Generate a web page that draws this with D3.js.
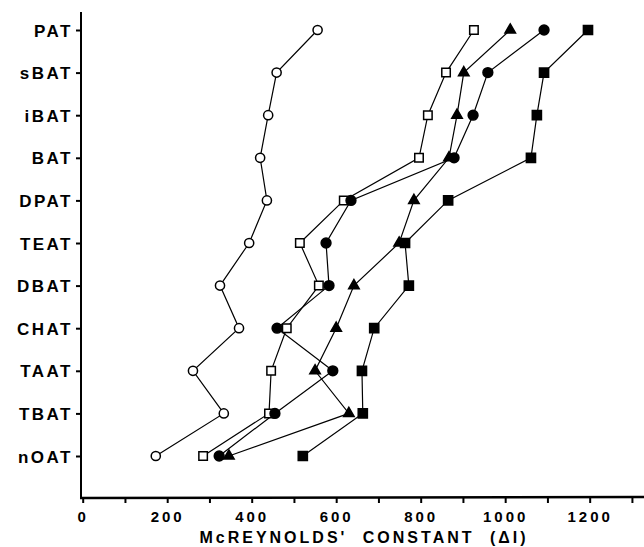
<!DOCTYPE html>
<html>
<head>
<meta charset="utf-8">
<script src="https://cdn.jsdelivr.net/npm/d3@7"></script>
<style>
  body { margin: 0; background: #fff; }
  text { font-family: "Liberation Sans", Arial, sans-serif; font-weight: bold; fill: #000; }
</style>
</head>
<body>
<div id="chart"></div>
<script>
// stationary phases, top to bottom
const phases = ["PAT", "sBAT", "iBAT", "BAT", "DPAT", "TEAT", "DBAT", "CHAT", "TAAT", "TBAT", "nOAT"];

// McReynolds' constants, one array per probe/marker
const openCircle = [556, 459, 439, 420, 436, 394, 325, 370, 261, 334, 173];
const openSquare = [926, 860, 817, 796, 618, 514, 559, 483, 446, 441, 285];
const filledTriangle = [1012, 902, 886, 867, 784, 749, 642, 600, 550, 630, 346];
const filledCircle = [1092, 959, 924, 879, 635, 576, 583, 460, 592, 455, 323];
const filledSquare = [1196, 1092, 1075, 1061, 865, 763, 772, 690, 661, 663, 521];

const xTickValues = [0, 200, 400, 600, 800, 1000, 1200];

function drawChart() {
  const w = 644;
  const h = 547;

  const series = [
    { values: openCircle, shape: d3.symbolCircle, size: 66, fill: "#fff" },
    { values: openSquare, shape: d3.symbolSquare, size: 72, fill: "#fff" },
    { values: filledTriangle, shape: d3.symbolTriangle, size: 48, fill: "#000" },
    { values: filledCircle, shape: d3.symbolCircle, size: 76, fill: "#000" },
    { values: filledSquare, shape: d3.symbolSquare, size: 84, fill: "#000" }
  ];

  const svg = d3
    .select("#chart")
    .append("svg")
    .attr("width", w)
    .attr("height", h);

  // scales
  const xScale = d3.scaleLinear().domain([0, 1330]).range([82.7, 644.6]);
  const yScale = d3.scalePoint().domain(phases).range([30, 456]);
  const axisY = 498;

  // axes
  const xAxis = d3
    .axisBottom(xScale)
    .tickValues(d3.range(0, 1301, 100))
    .tickSize(5)
    .tickFormat((d) => (xTickValues.includes(d) ? d : ""));

  const gx = svg
    .append("g")
    .attr("transform", `translate(0, ${axisY})`)
    .call(xAxis);
  gx.select(".domain").remove();
  gx.selectAll(".tick line").attr("stroke", "#000").attr("stroke-width", 2);
  gx.selectAll(".tick text")
    .attr("y", 13)
    .attr("dy", "0.71em")
    .style("font-size", "15px")
    .style("letter-spacing", "3px")
    .style("font-family", "'Liberation Sans', Arial, sans-serif");

  svg
    .append("line")
    .attr("x1", 80)
    .attr("x2", w)
    .attr("y1", axisY)
    .attr("y2", axisY - 1)
    .attr("stroke", "#000")
    .attr("stroke-width", 2.6);

  const yAxis = d3.axisLeft(yScale).tickSize(5).tickPadding(3);
  const gy = svg
    .append("g")
    .attr("transform", "translate(81, 0)")
    .call(yAxis);
  gy.select(".domain").remove();
  gy.selectAll(".tick line").attr("stroke", "#000").attr("stroke-width", 2);
  gy.selectAll(".tick text")
    .attr("dy", "0.36em")
    .style("font-size", "17px")
    .style("letter-spacing", "2.5px")
    .style("font-family", "'Liberation Sans', Arial, sans-serif");

  svg
    .append("line")
    .attr("x1", 81)
    .attr("x2", 81)
    .attr("y1", 12)
    .attr("y2", axisY + 1)
    .attr("stroke", "#000")
    .attr("stroke-width", 2);

  // lines, then markers on top
  const lineFunction = d3
    .line()
    .x((d) => xScale(d))
    .y((d, i) => yScale(phases[i]));

  series.forEach((s) => {
    svg
      .append("path")
      .attr("d", lineFunction(s.values))
      .attr("fill", "none")
      .attr("stroke", "#000")
      .attr("stroke-width", 1.2);
  });

  series.forEach((s) => {
    svg
      .selectAll(null)
      .data(s.values)
      .enter()
      .append("path")
      .attr("d", d3.symbol().type(s.shape).size(s.size))
      .attr("transform", (d, i) => `translate(${xScale(d)}, ${yScale(phases[i])})`)
      .attr("fill", s.fill)
      .attr("stroke", "#000")
      .attr("stroke-width", 1.5);
  });

  // axis title
  svg
    .append("text")
    .attr("x", 364)
    .attr("y", 543)
    .style("text-anchor", "middle")
    .style("font-size", "16px")
    .style("letter-spacing", "3px")
    .style("word-spacing", "8px")
    .text("McREYNOLDS' CONSTANT (ΔI)");
}

drawChart();
</script>
</body>
</html>
